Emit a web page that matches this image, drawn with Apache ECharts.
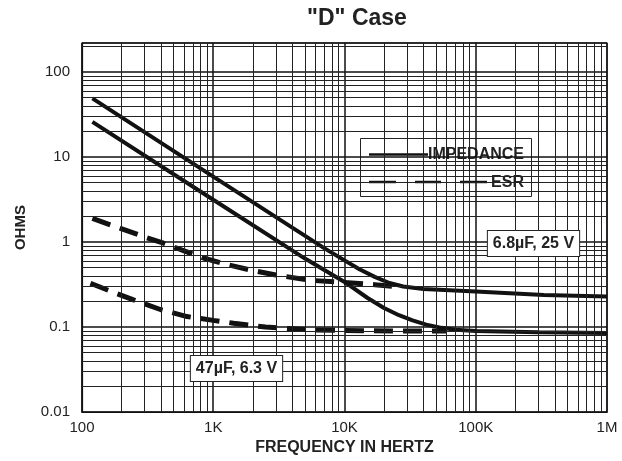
<!DOCTYPE html>
<html>
<head>
<meta charset="utf-8">
<script src="https://cdn.jsdelivr.net/npm/echarts@6/dist/echarts.min.js"></script>
<style>
  html, body { margin: 0; padding: 0; background: #fff; }
  #chart { width: 622px; height: 461px; }
</style>
</head>
<body>
<div id="chart"></div>
<script>
// frequency (Hz), ohms
const imp68 = [[120, 49], [1000, 5.9], [4000, 1.48], [7000, 0.85], [10000, 0.61], [13000, 0.48],
  [17000, 0.39], [22000, 0.33], [28000, 0.3], [40000, 0.28], [100000, 0.262], [330000, 0.239],
  [1000000, 0.229]];
const imp47 = [[120, 26], [1000, 3.15], [5000, 0.64], [10000, 0.34], [15000, 0.22], [20000, 0.168],
  [26000, 0.138], [33000, 0.12], [42000, 0.107], [55000, 0.098], [70000, 0.093], [100000, 0.09],
  [300000, 0.087], [1000000, 0.085]];
const esr68 = [[120, 1.9], [196, 1.45], [300, 1.15], [418, 0.97], [600, 0.79], [843, 0.65],
  [1300, 0.54], [1910, 0.47], [3000, 0.41], [5500, 0.355], [10000, 0.335], [17000, 0.315],
  [25000, 0.3]];
const esr47 = [[116, 0.328], [170, 0.26], [247, 0.209], [400, 0.16], [631, 0.133], [1000, 0.12],
  [1430, 0.111], [2500, 0.1], [5480, 0.093], [10000, 0.091], [30000, 0.09], [60000, 0.09]];

const xLabels = ['100', '1K', '10K', '100K', '1M'];
const yLabels = ['0.01', '0.1', '1', '10', '100'];

// minor grid lines (log paper)
const xGrid = [200, 300, 400, 500, 600, 700, 800, 900,
  2000, 3000, 4000, 5000, 6000, 7000, 8000, 9000,
  20000, 30000, 40000, 50000, 60000, 70000, 80000, 90000,
  200000, 300000, 400000, 500000, 600000, 700000, 800000, 900000];
const yGrid = [0.02, 0.03, 0.04, 0.05, 0.06, 0.07, 0.08, 0.09,
  0.2, 0.3, 0.4, 0.5, 0.6, 0.7, 0.8, 0.9,
  2, 3, 4, 5, 6, 7, 8, 9,
  20, 30, 40, 50, 60, 70, 80, 90, 200];

const FONT = '"Liberation Sans", Arial, Helvetica, sans-serif';

function decadeLabel(v, labels, base) {
  const l = Math.log10(v);
  const e = Math.round(l);
  if (Math.abs(l - e) > 1e-6) return '';
  return labels[e - base] || '';
}

const chart = echarts.init(document.getElementById('chart'));

const lineOpts = {
  type: 'line',
  showSymbol: false,
  smooth: false,
  z: 3
};

chart.setOption({
  animation: false,
  title: {
    text: '"D" Case',
    left: 357,
    textAlign: 'center',
    top: 7,
    padding: 0,
    textStyle: { fontFamily: FONT, fontSize: 23, fontWeight: 'bold', color: '#222' }
  },
  grid: {
    left: 82,
    right: 15,
    top: 43,
    bottom: 47,
    show: true,
    borderColor: '#111',
    borderWidth: 1.2
  },
  xAxis: {
    type: 'log',
    logBase: 10,
    min: 100,
    max: 1000000,
    name: 'FREQUENCY IN HERTZ',
    nameLocation: 'middle',
    nameGap: 23,
    nameTextStyle: { fontFamily: FONT, fontSize: 16, fontWeight: 'bold', color: '#222' },
    axisLine: { show: true, lineStyle: { color: '#111', width: 1.2 } },
    axisTick: { show: false },
    axisLabel: {
      margin: 8,
      fontFamily: FONT,
      fontSize: 15,
      color: '#222',
      formatter: v => decadeLabel(v, xLabels, 2)
    },
    splitLine: { show: true, lineStyle: { color: '#111', width: 1.5 } }
  },
  yAxis: {
    type: 'log',
    logBase: 10,
    min: 0.01,
    max: 220,
    name: 'OHMS',
    nameLocation: 'middle',
    nameRotate: 90,
    nameGap: 54,
    nameTextStyle: { fontFamily: FONT, fontSize: 15, fontWeight: 'bold', color: '#222' },
    axisLine: { show: true, lineStyle: { color: '#111', width: 1.2 } },
    axisTick: { show: false },
    axisLabel: {
      margin: 12,
      fontFamily: FONT,
      fontSize: 15,
      color: '#222',
      formatter: v => decadeLabel(v, yLabels, -2)
    },
    splitLine: { show: true, lineStyle: { color: '#111', width: 1.5 } }
  },
  series: [
    {
      name: 'grid',
      type: 'line',
      data: [],
      silent: true,
      z: 1,
      markLine: {
        silent: true,
        symbol: ['none', 'none'],
        label: { show: false },
        lineStyle: { color: '#222', width: 1, type: 'solid' },
        emphasis: { disabled: true },
        data: xGrid.map(v => ({ xAxis: v })).concat(yGrid.map(v => ({ yAxis: v })))
      }
    },
    Object.assign({}, lineOpts, { name: 'Impedance 6.8µF', data: imp68, lineStyle: { color: '#111', width: 4 } }),
    Object.assign({}, lineOpts, { name: 'Impedance 47µF', data: imp47, lineStyle: { color: '#111', width: 4 } }),
    Object.assign({}, lineOpts, { name: 'ESR 6.8µF', data: esr68, lineStyle: { color: '#111', width: 5, type: [19, 10] } }),
    Object.assign({}, lineOpts, { name: 'ESR 47µF', data: esr47, lineStyle: { color: '#111', width: 5, type: [19, 10] } })
  ],
  graphic: [
    {
      type: 'group',
      z: 10,
      children: [
        { type: 'rect', shape: { x: 360.5, y: 138.5, width: 171, height: 58 },
          style: { fill: '#fff', stroke: '#222', lineWidth: 1 } },
        { type: 'line', shape: { x1: 369, y1: 154.5, x2: 428, y2: 154.5 },
          style: { stroke: '#111', lineWidth: 2.5 } },
        { type: 'text', x: 428, y: 155,
          style: { text: 'IMPEDANCE', font: 'bold 16px ' + FONT, fill: '#222', verticalAlign: 'middle', align: 'left' } },
        { type: 'line', shape: { x1: 369, y1: 182, x2: 396, y2: 182 }, style: { stroke: '#111', lineWidth: 2.5 } },
        { type: 'line', shape: { x1: 415, y1: 182, x2: 441, y2: 182 }, style: { stroke: '#111', lineWidth: 2.5 } },
        { type: 'line', shape: { x1: 460, y1: 182, x2: 487, y2: 182 }, style: { stroke: '#111', lineWidth: 2.5 } },
        { type: 'text', x: 524, y: 182.5,
          style: { text: 'ESR', font: 'bold 16px ' + FONT, fill: '#222', verticalAlign: 'middle', align: 'right' } }
      ]
    },
    {
      type: 'text', z: 10, x: 533.5, y: 243.5,
      style: {
        text: '6.8µF, 25 V', font: 'bold 16px ' + FONT, fill: '#222',
        align: 'center', verticalAlign: 'middle',
        backgroundColor: '#fff', borderColor: '#222', borderWidth: 1, padding: [5, 5, 4, 5]
      }
    },
    {
      type: 'text', z: 10, x: 236.5, y: 368.5,
      style: {
        text: '47µF, 6.3 V', font: 'bold 16px ' + FONT, fill: '#222',
        align: 'center', verticalAlign: 'middle',
        backgroundColor: '#fff', borderColor: '#222', borderWidth: 1, padding: [5, 5, 4, 5]
      }
    }
  ]
});

window.addEventListener('resize', () => chart.resize());
</script>
</body>
</html>
